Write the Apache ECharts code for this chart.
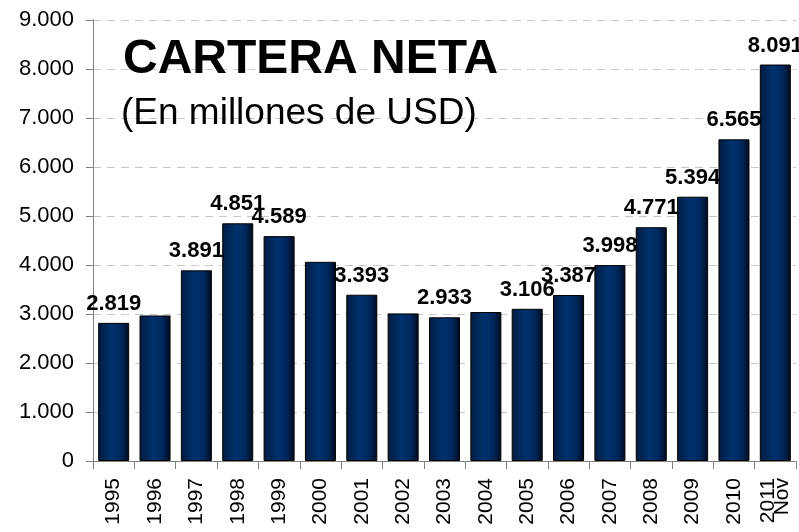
<!DOCTYPE html>
<html>
<head>
<meta charset="utf-8">
<script src="https://cdn.jsdelivr.net/npm/echarts@6/dist/echarts.min.js"></script>
<style>
html,body{margin:0;padding:0;background:#fff;}
#c{width:799px;height:532px;}
</style>
</head>
<body>
<div id="c"></div>
<script>
var categories = ['1995','1996','1997','1998','1999','2000','2001','2002','2003','2004','2005','2006','2007','2008','2009','2010','2011\nNov'];
var values = [2819, 2970, 3891, 4851, 4589, 4065, 3393, 3012, 2933, 3040, 3106, 3387, 3998, 4771, 5394, 6565, 8091];
var labelShown = [true, false, true, true, true, false, true, false, true, false, true, true, true, true, true, true, true];
var yTicks = [0, 1000, 2000, 3000, 4000, 5000, 6000, 7000, 8000, 9000];
var titleText = 'CARTERA NETA';
var subtitleText = '(En millones de USD)';

function fmt(v) {
  var s = String(Math.round(v));
  return s.replace(/\B(?=(\d{3})+(?!\d))/g, '.');
}

var barGradient = new echarts.graphic.LinearGradient(0, 0, 1, 0, [
  {offset: 0, color: '#081a36'},
  {offset: 0.12, color: '#00224e'},
  {offset: 0.45, color: '#00326e'},
  {offset: 0.75, color: '#00275c'},
  {offset: 1, color: '#000a1c'}
]);

var seriesData = values.map(function (v, i) {
  return {
    value: v,
    label: {show: labelShown[i]}
  };
});

var chart = echarts.init(document.getElementById('c'));
chart.setOption({
  animation: false,
  backgroundColor: '#ffffff',
  title: [
    {text: titleText, left: 123, top: 36, padding: 0, textStyle: {fontFamily: 'Liberation Sans', fontSize: 48, fontWeight: 'bold', color: '#000'}},
    {text: subtitleText, left: 121, top: 95, padding: 0, textStyle: {fontFamily: 'Liberation Sans', fontSize: 37, fontWeight: 'normal', color: '#000'}}
  ],
  grid: {left: 93, right: 3, top: 20, bottom: 71, containLabel: false},
  xAxis: {
    type: 'category',
    data: categories,
    axisLine: {lineStyle: {color: '#808080', width: 1}},
    axisTick: {show: true, alignWithLabel: false, length: 8, lineStyle: {color: '#808080'}},
    axisLabel: {rotate: 90, margin: 17, fontFamily: 'Liberation Sans', fontSize: 21, color: '#000', lineHeight: 14, interval: 0}
  },
  yAxis: {
    type: 'value',
    min: yTicks[0],
    max: yTicks[yTicks.length - 1],
    interval: 1000,
    axisLine: {show: true, lineStyle: {color: '#808080', width: 1}},
    axisTick: {show: true, length: 7, lineStyle: {color: '#808080'}},
    axisLabel: {fontFamily: 'Liberation Sans', fontSize: 22, color: '#000', margin: 19, formatter: function (v) { return fmt(v); }},
    splitLine: {show: true, lineStyle: {color: '#c8c8c8', type: [8, 6], width: 1}}
  },
  series: [{
    type: 'bar',
    data: seriesData,
    barCategoryGap: '25%',
    itemStyle: {color: barGradient, borderColor: '#000', borderWidth: 1},
    label: {
      position: 'top',
      distance: 8,
      fontFamily: 'Liberation Sans',
      fontSize: 22,
      fontWeight: 'bold',
      color: '#000',
      formatter: function (p) { return fmt(p.value); }
    }
  }]
});
</script>
</body>
</html>
